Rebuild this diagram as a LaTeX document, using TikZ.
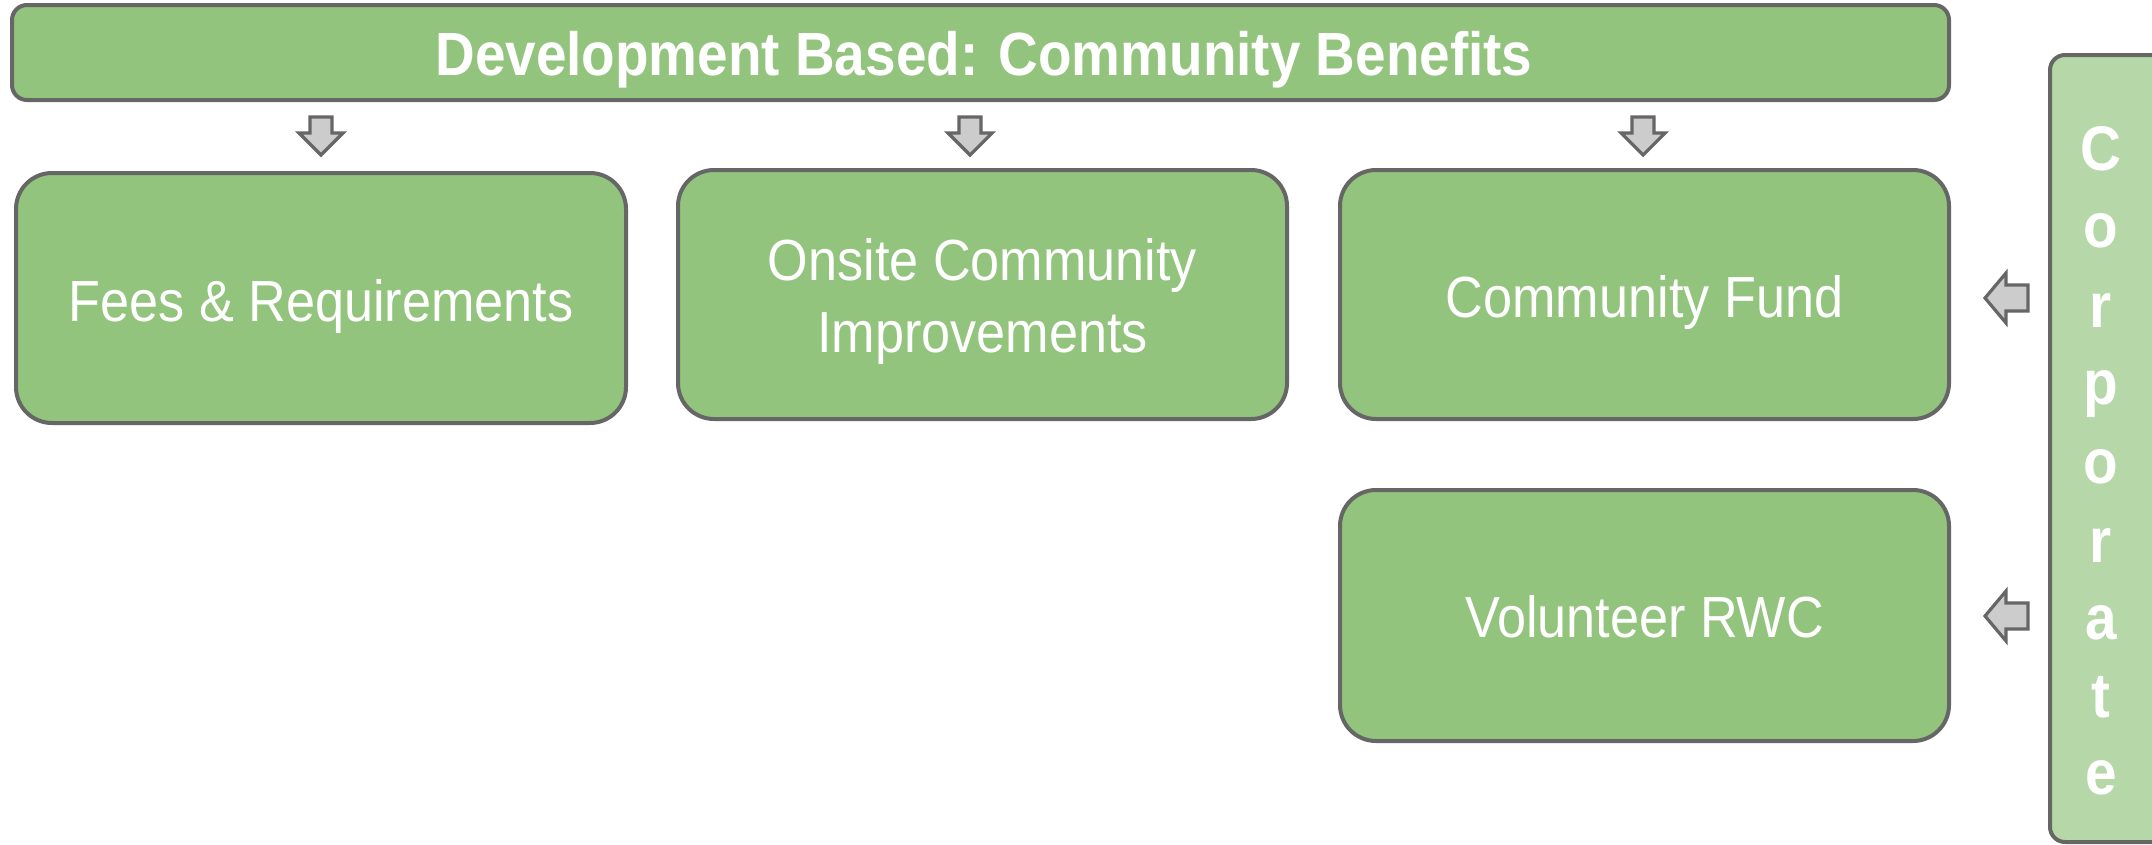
\documentclass[tikz,border=0pt]{standalone}
\usepackage{fontspec}
\setmainfont{Liberation Sans}[FakeStretch=0.9]
\definecolor{gmain}{HTML}{93C47D}
\definecolor{glight}{HTML}{B6D7A8}
\definecolor{gline}{HTML}{666666}
\definecolor{garrow}{HTML}{CCCCCC}
\begin{document}
\begin{tikzpicture}[x=1pt,y=-1pt,
  box/.style={draw=gline,line width=4pt,fill=gmain,rounded corners=36pt,
    minimum width=610pt,minimum height=250pt,inner sep=0pt},
  boxtext/.style={text=white,inner sep=0pt,align=center,font=\fontsize{58}{72}\selectfont},
  bar/.style={draw=gline,line width=4pt,fill=gmain,rounded corners=15pt,inner sep=0pt},
  arr/.style={draw=gline,line width=3.2pt,fill=garrow,line join=miter},
  letter/.style={anchor=base,text=white,inner sep=0pt,font=\bfseries\fontsize{63}{72}\selectfont}
]
\useasboundingbox (0,0) rectangle (2152,844);
% top bar
\node[bar,minimum width=1937pt,minimum height=95pt] (top) at (980.5,52.5) {};
\node[text=white,inner sep=0pt,font=\bfseries\fontsize{61}{72}\selectfont] (toptext) at (984,60) {Development Based: Community Benefits};
% corporate bar
\node[bar,fill=glight,minimum width=125pt,minimum height=787pt] (corp) at (2112.5,448.5) {};
\foreach \l/\b [count=\i] in {C/170,o/247,r/327,p/404,o/483,r/562,a/639,t/717,e/794}
  \node[letter] (c\i) at (2101,\b) {\l};
% boxes
\node[box] (fees) at (321,298) {};
\node[boxtext] (feest) at (321,306) {Fees \& Requirements};
\node[box,minimum width=609pt,minimum height=249pt] (onsite) at (982.5,294.5) {};
\node[boxtext] (onsitet) at (982.5,301) {Onsite Community\\Improvements};
\node[box,minimum width=609pt,minimum height=249pt] (fund) at (1644.5,294.5) {};
\node[boxtext] (fundt) at (1644.5,302) {Community Fund};
\node[box,minimum width=609pt,minimum height=251pt] (vol) at (1644.5,615.5) {};
\node[boxtext,anchor=base] (volt) at (1644.5,637) {Volunteer RWC};
% down arrows
\foreach \x in {321,970,1643}
  \draw[arr] (\x-11,117) -- (\x+11,117) -- (\x+11,133) -- (\x+22,133) -- (\x,155) -- (\x-22,133) -- (\x-11,133) -- cycle;
% left arrows
\foreach \y in {298,616}
  \draw[arr] (1985,\y) -- (2006,\y-25) -- (2006,\y-13) -- (2028,\y-13) -- (2028,\y+13) -- (2006,\y+13) -- (2006,\y+25) -- cycle;
\end{tikzpicture}
\end{document}
